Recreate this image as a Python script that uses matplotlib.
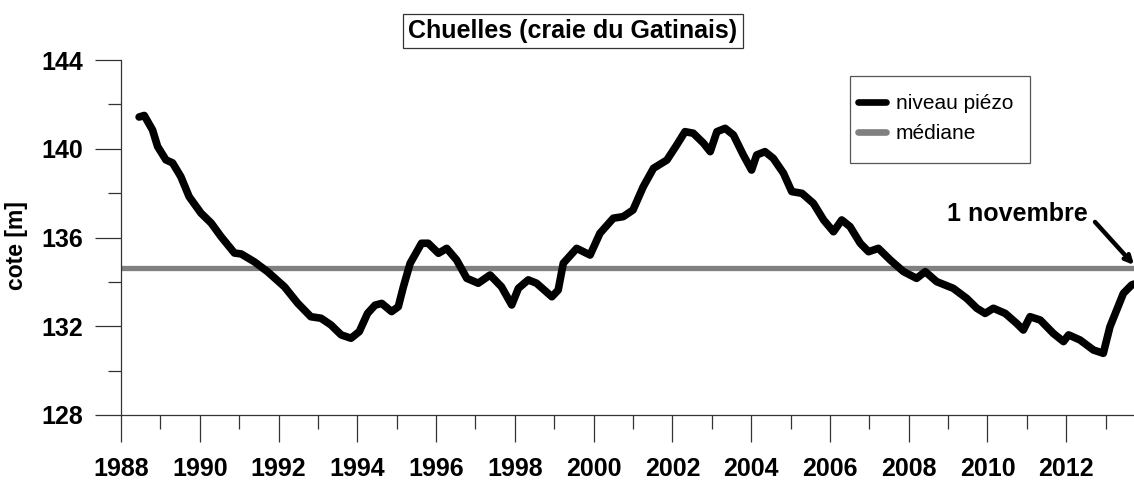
import matplotlib.pyplot as plt
from matplotlib.patches import Rectangle
from matplotlib.ticker import MultipleLocator

plt.rcParams["font.family"] = ["Liberation Sans", "DejaVu Sans"]

# niveau piézométrique
years = [
    1988.46, 1988.59, 1988.80, 1988.93, 1989.14, 1989.31, 1989.52, 1989.73,
    1990.03, 1990.29, 1990.54, 1990.88, 1991.05, 1991.39, 1991.72, 1992.15,
    1992.49, 1992.82, 1993.08, 1993.33, 1993.59, 1993.84, 1994.05, 1994.26,
    1994.45, 1994.62, 1994.87, 1995.04, 1995.17, 1995.34, 1995.63, 1995.80,
    1996.06, 1996.27, 1996.52, 1996.78, 1997.07, 1997.37, 1997.66, 1997.92,
    1998.09, 1998.34, 1998.55, 1998.94, 1999.10, 1999.23, 1999.57, 1999.91,
    2000.16, 2000.50, 2000.75, 2001.00, 2001.26, 2001.52, 2001.86, 2002.11,
    2002.32, 2002.53, 2002.79, 2002.96, 2003.13, 2003.34, 2003.55, 2003.80,
    2004.01, 2004.14, 2004.35, 2004.56, 2004.82, 2005.03, 2005.29, 2005.58,
    2005.84, 2006.09, 2006.30, 2006.51, 2006.77, 2006.98, 2007.23, 2007.53,
    2007.87, 2008.20, 2008.42, 2008.71, 2009.13, 2009.47, 2009.73, 2009.94,
    2010.15, 2010.45, 2010.74, 2010.91, 2011.08, 2011.34, 2011.67, 2011.93,
    2012.06, 2012.35, 2012.69, 2012.94, 2013.11, 2013.28, 2013.45, 2013.66,
    2013.72,
]
niveau = [
    141.43, 141.50, 140.85, 140.10, 139.50, 139.36, 138.74, 137.84,
    137.10, 136.65, 136.04, 135.30, 135.26, 134.90, 134.46, 133.78,
    133.03, 132.43, 132.36, 132.06, 131.61, 131.46, 131.76, 132.58,
    132.95, 133.03, 132.66, 132.88, 133.78, 134.83, 135.74, 135.74,
    135.29, 135.51, 134.99, 134.16, 133.94, 134.31, 133.78, 132.96,
    133.71, 134.09, 133.94, 133.33, 133.63, 134.84, 135.51, 135.21,
    136.19, 136.87, 136.94, 137.24, 138.29, 139.12, 139.49, 140.17,
    140.77, 140.70, 140.25, 139.87, 140.77, 140.92, 140.62, 139.72,
    139.04, 139.72, 139.87, 139.57, 138.90, 138.07, 137.99, 137.54,
    136.79, 136.26, 136.79, 136.49, 135.74, 135.36, 135.51, 134.99,
    134.46, 134.16, 134.46, 134.01, 133.71, 133.26, 132.81, 132.58,
    132.81, 132.58, 132.13, 131.83, 132.43, 132.28, 131.68, 131.31,
    131.61, 131.38, 130.93, 130.78, 131.98, 132.73, 133.48, 133.86,
    133.90,
]
mediane = 134.63
x_range = [1988.0, 2013.72]

fig = plt.figure(figsize=(11.34, 4.8), dpi=100)
ax = fig.add_axes([121 / 1134, 1 - 415 / 480, 1 - 121 / 1134, 355 / 480])

ax.plot(x_range, [mediane, mediane], color="#808080", lw=3.8,
        solid_capstyle="butt", label="médiane", zorder=2, clip_on=False)
ax.plot(years, niveau, color="black", lw=5.5, solid_capstyle="round",
        solid_joinstyle="round", label="niveau piézo", zorder=3)

ax.set_xlim(x_range)
ax.set_ylim(128, 144)
ax.xaxis.set_major_locator(MultipleLocator(2))
ax.xaxis.set_minor_locator(MultipleLocator(1))
ax.yaxis.set_major_locator(MultipleLocator(4))
ax.yaxis.set_minor_locator(MultipleLocator(2))

for s in ["top", "right"]:
    ax.spines[s].set_visible(False)
for s in ["left", "bottom"]:
    ax.spines[s].set_color("#333333")
    ax.spines[s].set_linewidth(0.9)

ax.tick_params(axis="both", which="both", direction="out", color="#333333", width=0.9)
ax.tick_params(axis="y", which="major", length=18.7, pad=8.5)
ax.tick_params(axis="y", which="minor", length=9.4)
ax.tick_params(axis="x", which="major", length=19.5, pad=10.5)
ax.tick_params(axis="x", which="minor", length=10)
for lab in ax.get_xticklabels() + ax.get_yticklabels():
    lab.set_fontsize(18)
    lab.set_fontweight("bold")

ax.set_ylabel("cote [m]", fontsize=16.5, fontweight="bold")
ax.yaxis.set_label_coords(-0.092, (415 - 246) / 355)

fig.text(573 / 1134, 1 - 31 / 480, "Chuelles (craie du Gatinais)",
         ha="center", va="center", fontsize=18, fontweight="bold",
         bbox=dict(boxstyle="square,pad=0.2", fc="white", ec="#333333", lw=0.9))

# cadre de la légende
fig.patches.append(Rectangle((850 / 1134, 1 - 163 / 480), 180 / 1134, 87 / 480,
                             transform=fig.transFigure, fill=False,
                             ec="#555555", lw=0.9))
handles, labels = ax.get_legend_handles_labels()
leg = ax.legend(handles[::-1], labels[::-1], loc="upper left",
                bbox_to_anchor=(858 / 1134, 1 - 94 / 480),
                bbox_transform=fig.transFigure, fontsize=15, frameon=False,
                borderpad=0, handlelength=1.35, handletextpad=0.45,
                labelspacing=0.55, borderaxespad=0)
for h in leg.get_lines():
    h.set_linewidth(4.8)
    h.set_solid_capstyle("round")

ax.text(2010.75, 137.05, "1 novembre", ha="center", va="center",
        fontsize=18, fontweight="bold")
ax.annotate("", xy=(2013.72, 134.76), xytext=(2012.73, 136.70),
            annotation_clip=False,
            arrowprops=dict(arrowstyle="->", color="black", lw=3.2,
                            shrinkA=0, shrinkB=0, mutation_scale=12))

fig.savefig("out.png", dpi=100)
